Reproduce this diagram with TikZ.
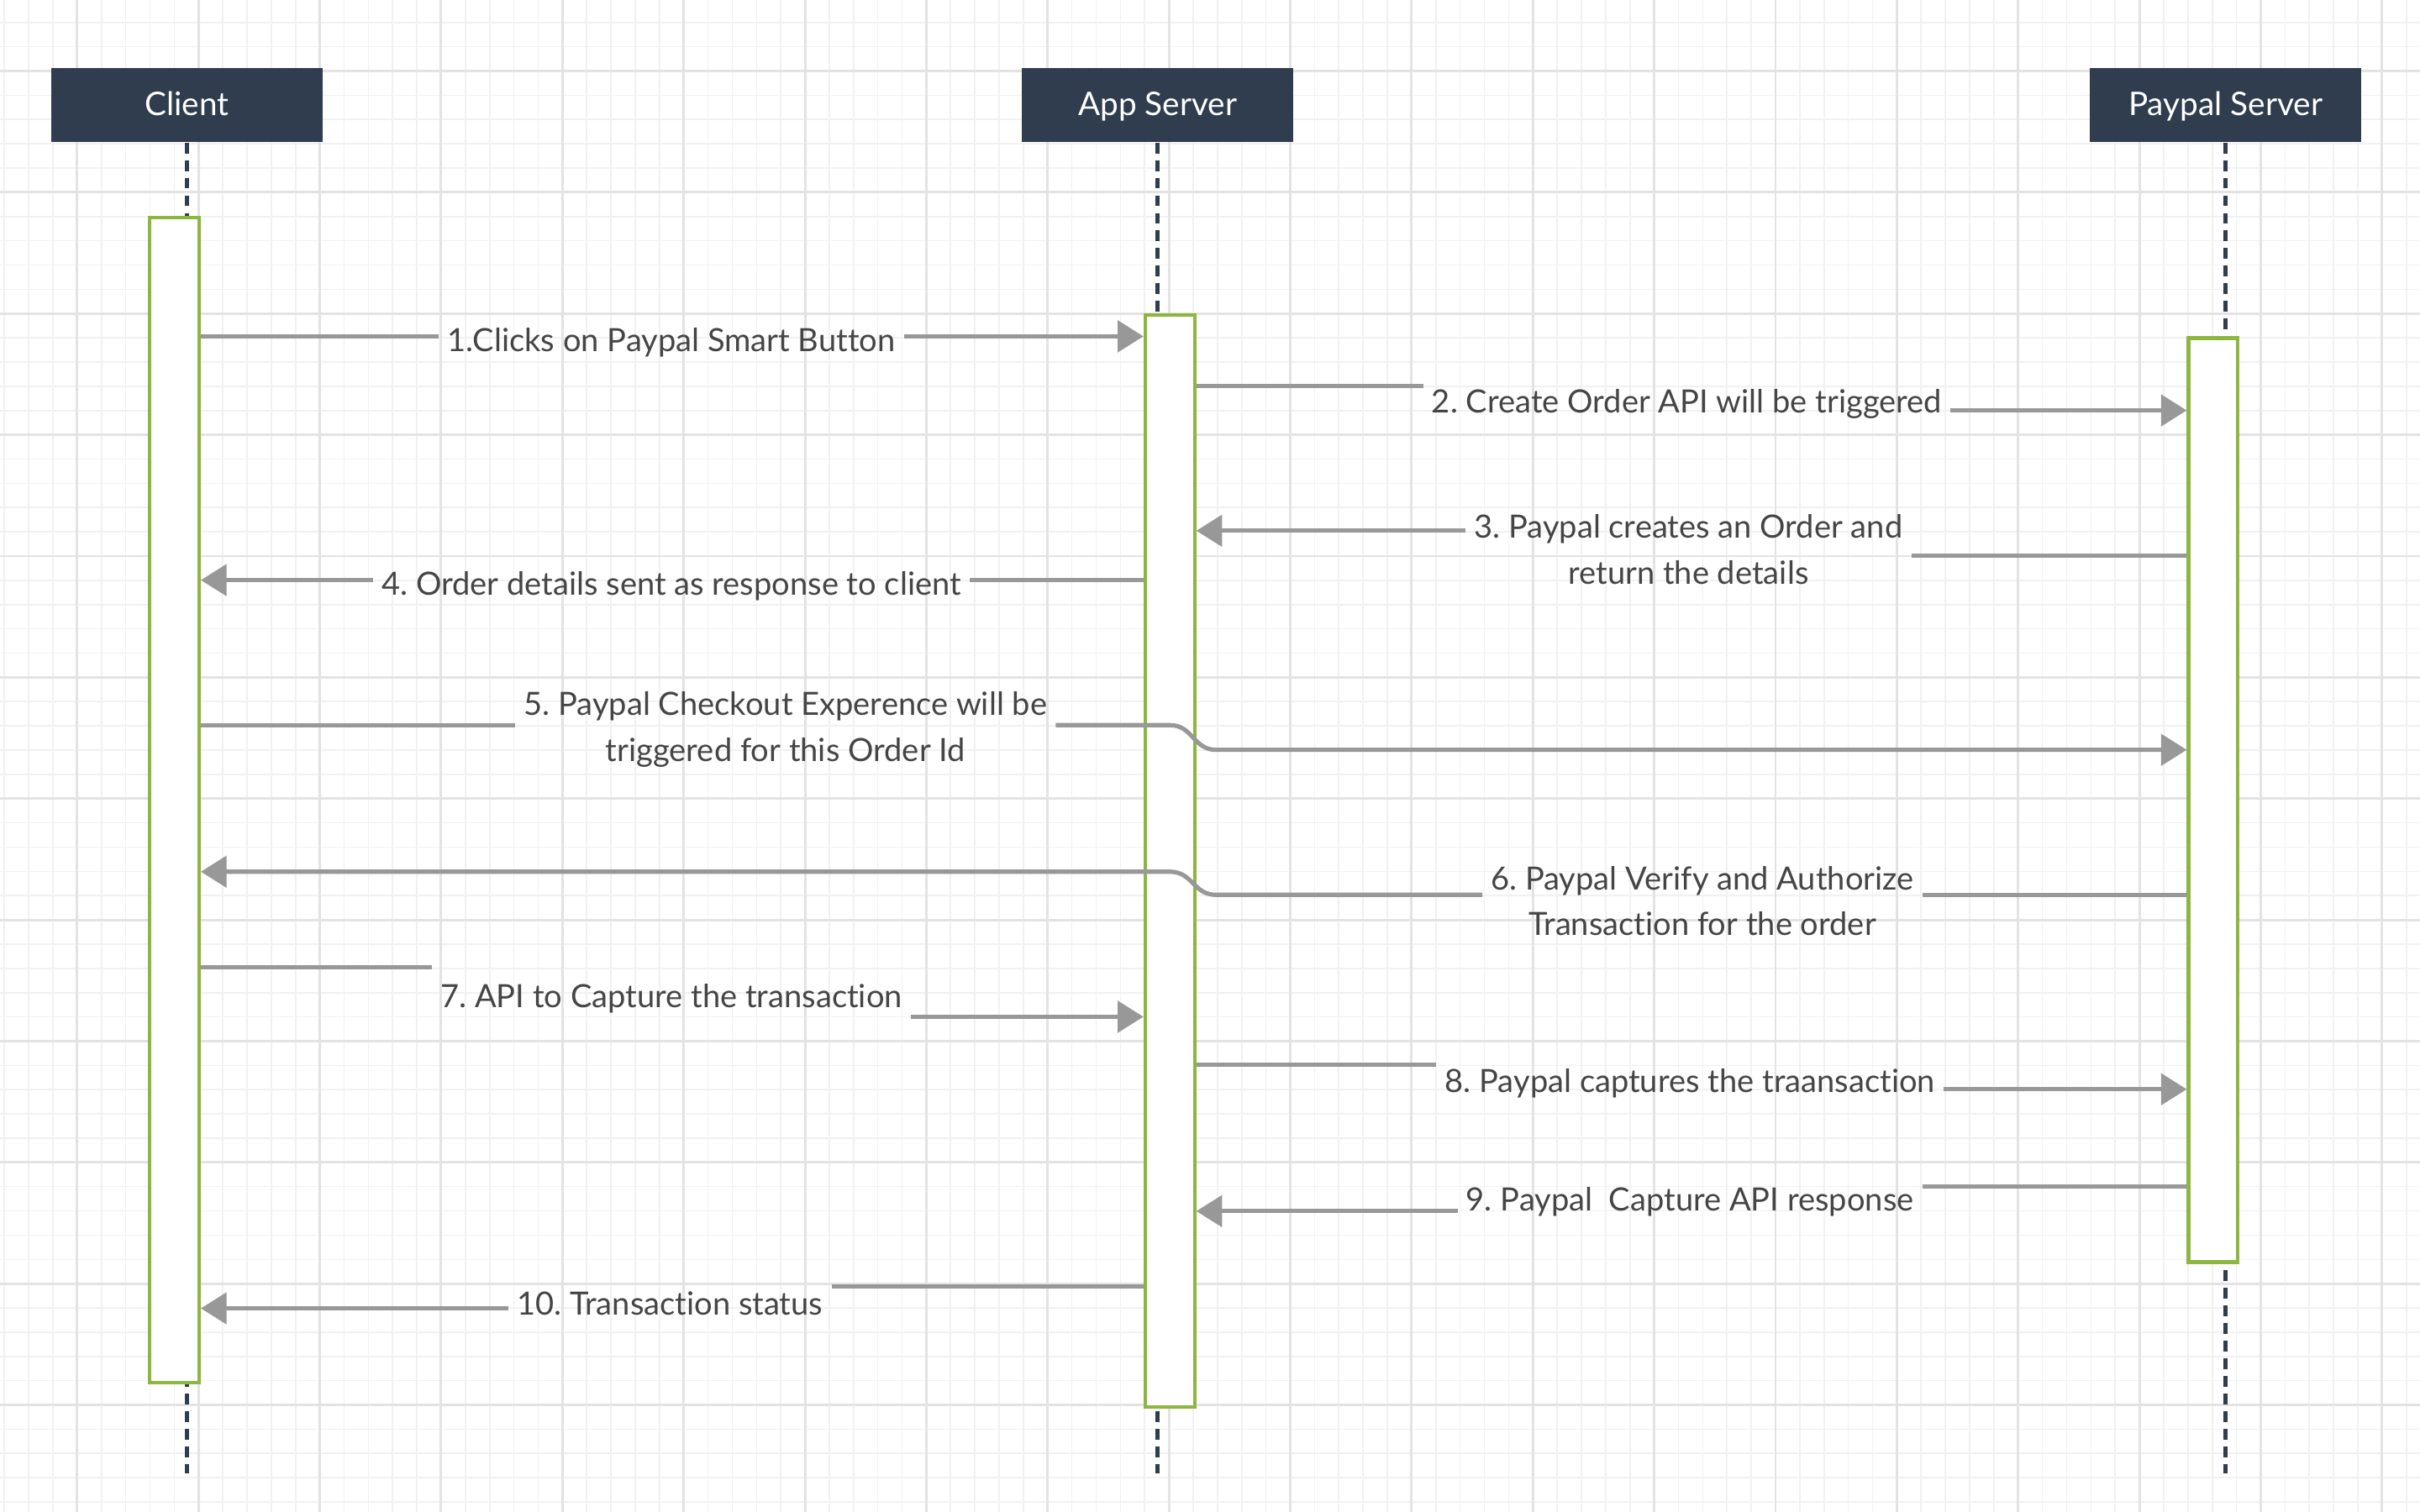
\documentclass[tikz,border=0pt]{standalone}
\usepackage{fontspec}
\setmainfont[Ligatures=NoCommon]{Lato}
\frenchspacing
\usetikzlibrary{arrows.meta,positioning}
\definecolor{headfill}{HTML}{2F3D4F}
\definecolor{bargreen}{HTML}{8DB640}
\definecolor{msggray}{HTML}{989898}
\definecolor{labelgray}{HTML}{454545}
\definecolor{gridminor}{HTML}{F1F1F1}
\definecolor{gridmajor}{HTML}{E3E3E3}

\begin{document}
\begin{tikzpicture}[x=0.02cm, y=-0.02cm,
  lifehead/.style = {fill = headfill, text = white, minimum width = 3.52cm, minimum height = 0.96cm, text height = 0.8em, text depth = 0pt, font = \fontsize{12}{14}\selectfont},
  actbar/.style = {draw = bargreen, fill = white, line width = 1.3pt, minimum width = 0.64cm, inner sep = 0pt, anchor = north},
  lifeline/.style = {draw = headfill, line width = 1.4pt, dash pattern = on 4pt off 2.5pt},
  msg/.style = {draw = msggray, line width = 1.6pt},
  msgarrow/.style = {msg, -{Triangle[length = 9.5pt, width = 11.5pt]}},
  lbl/.style = {text = labelgray, align = center, inner xsep = 3pt, font = \fontsize{11.8}{17}\selectfont}]

\useasboundingbox (0,0) rectangle (1568,980);
\fill[white] (0,0) rectangle (1568,980);

% grid
\foreach \i in {0,...,99}
  \draw[gridminor, line width = 0.5pt] ({2.84+\i*15.72},0) -- ({2.84+\i*15.72},980);
\foreach \j in {0,...,61}
  \draw[gridminor, line width = 0.5pt] (0,{14.56+\j*15.72}) -- (1568,{14.56+\j*15.72});
\foreach \i in {0,...,19}
  \draw[gridmajor, line width = 0.9pt] ({50+\i*78.6},0) -- ({50+\i*78.6},980);
\foreach \j in {0,...,11}
  \draw[gridmajor, line width = 0.9pt] (0,{46+\j*78.6}) -- (1568,{46+\j*78.6});

% lifelines
\node[lifehead] (client) at (121,68) {Client};
\node[lifehead] (appsrv) at (750,68) {App Server};
\node[lifehead] (paypal) at (1442,68) {Paypal Server};
\draw[lifeline] (client.south) -- (client.south |- 0,955);
\draw[lifeline] (appsrv.south) -- (appsrv.south |- 0,955);
\draw[lifeline] (paypal.south) -- (paypal.south |- 0,955);

\node[actbar, minimum height = 15.1cm] (clientbar) at (113,140) {};
\node[actbar, minimum height = 14.16cm] (appbar) at (758,203) {};
\node[actbar, minimum height = 11.98cm] (paypalbar) at (1434,218) {};

% messages
\node[lbl] (m1) at (435,222) {1.Clicks on Paypal Smart Button};
\draw[msg] (clientbar.east |- 0,218) -- (m1.west |- 0,218);
\draw[msgarrow] (m1.east |- 0,218) -- (appbar.west |- 0,218);

\node[lbl] (m2) at (1093,262) {2. Create Order API will be triggered};
\draw[msg] (appbar.east |- 0,250) -- (m2.west |- 0,250);
\draw[msgarrow] (m2.east |- 0,266) -- (paypalbar.west |- 0,266);

\node[lbl] (m3) at (1094,356) {3. Paypal creates an Order and\\return the details};
\draw[msg] (paypalbar.west |- 0,360) -- (m3.east |- 0,360);
\draw[msgarrow] (m3.west |- 0,344) -- (appbar.east |- 0,344);

\node[lbl] (m4) at (435,380) {4. Order details sent as response to client};
\draw[msg] (appbar.west |- 0,376) -- (m4.east |- 0,376);
\draw[msgarrow] (m4.west |- 0,376) -- (clientbar.east |- 0,376);

\node[lbl] (m5) at (509,473) {5. Paypal Checkout Experence will be\\triggered for this Order Id};
\draw[msg] (clientbar.east |- 0,470) -- (m5.west |- 0,470);
\draw[msgarrow] (m5.east |- 0,470) -- (758,470) .. controls (773,470) and (773,486) .. (788,486) -- (paypalbar.west |- 0,486);

\node[lbl] (m6) at (1103,584) {6. Paypal Verify and Authorize\\Transaction for the order};
\draw[msg] (paypalbar.west |- 0,580) -- (m6.east |- 0,580);
\draw[msgarrow] (m6.west |- 0,580) -- (788,580) .. controls (773,580) and (773,565) .. (758,565) -- (clientbar.east |- 0,565);

\node[lbl] (m7) at (435,647) {7. API to Capture the transaction};
\draw[msg] (clientbar.east |- 0,627) -- (m7.west |- 0,627);
\draw[msgarrow] (m7.east |- 0,659) -- (appbar.west |- 0,659);

\node[lbl] (m8) at (1095,702) {8. Paypal captures the traansaction};
\draw[msg] (appbar.east |- 0,690) -- (m8.west |- 0,690);
\draw[msgarrow] (m8.east |- 0,706) -- (paypalbar.west |- 0,706);

\node[lbl] (m9) at (1095,779) {9. Paypal\ \ Capture API response};
\draw[msg] (paypalbar.west |- 0,769) -- (m9.east |- 0,769);
\draw[msgarrow] (m9.west |- 0,785) -- (appbar.east |- 0,785);

\node[lbl] (m10) at (434,845) {10. Transaction status};
\draw[msg] (appbar.west |- 0,834) -- (m10.east |- 0,834);
\draw[msgarrow] (m10.west |- 0,848) -- (clientbar.east |- 0,848);
\end{tikzpicture}
\end{document}
